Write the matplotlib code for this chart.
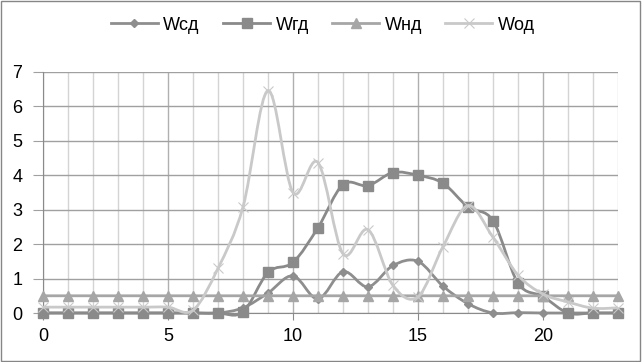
import matplotlib
matplotlib.use("Agg")
import matplotlib.pyplot as plt
from matplotlib.path import Path
from matplotlib.patches import PathPatch, Rectangle
from matplotlib.lines import Line2D
import numpy as np

hours = list(range(24))
w_sd = [0, 0, 0, 0, 0, 0, 0, 0, 0.15, 0.58, 1.08, 0.41, 1.2, 0.76, 1.38, 1.5,
        0.78, 0.27, 0, 0.01, 0, 0, 0, 0]
w_gd = [0, 0, 0, 0, 0, 0, 0, 0, 0.03, 1.18, 1.47, 2.48, 3.73, 3.7, 4.08, 4.0,
        3.77, 3.08, 2.68, 0.87, 0.48, 0, 0, 0]
w_nd = [0.5] * 24
w_od = [0.17, 0.17, 0.17, 0.17, 0.17, 0.17, 0.08, 1.3, 3.08, 6.46, 3.5, 4.37,
        1.72, 2.42, 0.8, 0.47, 1.93, 3.12, 2.2, 1.1, 0.55, 0.32, 0.14, 0.15]
labels = ["Wсд", "Wгд", "Wнд", "Wод"]


def smooth_path(x, y):
    # excel-like smoothed line: cubic bezier, catmull-rom control points
    x = np.asarray(x, float)
    y = np.asarray(y, float)
    verts = [(x[0], y[0])]
    codes = [Path.MOVETO]
    n = len(x)
    for i in range(n - 1):
        x0, y0 = (x[i - 1], y[i - 1]) if i > 0 else (x[i], y[i])
        x3, y3 = (x[i + 2], y[i + 2]) if i + 2 < n else (x[i + 1], y[i + 1])
        c1 = (x[i] + (x[i + 1] - x0) / 6, y[i] + (y[i + 1] - y0) / 6)
        c2 = (x[i + 1] - (x3 - x[i]) / 6, y[i + 1] - (y3 - y[i]) / 6)
        verts += [c1, c2, (x[i + 1], y[i + 1])]
        codes += [Path.CURVE4] * 3
    return Path(verts, codes)


fig = plt.figure(figsize=(6.42, 3.62), dpi=100)
plt.rcParams['font.family'] = ['Liberation Sans', 'DejaVu Sans']
ax = fig.add_axes([43 / 642, 1 - 313 / 362, 575 / 642, 241 / 362])

series = [w_sd, w_gd, w_nd, w_od]
colors = ["#8e8e8e", "#8a8a8a", "#a6a6a6", "#c9c9c9"]
markers = ["D", "s", "^", "x"]
msizes = [4.5, 7, 6.5, 7]
mews = [1.0, 1.0, 1.0, 0.8]
handles = []
for k, (vals, col, mk, ms, mw, lab) in enumerate(zip(series, colors, markers, msizes, mews, labels)):
    patch = PathPatch(smooth_path(hours, vals), facecolor="none", edgecolor=col,
                      lw=2.0, zorder=3 + k, clip_on=False)
    ax.add_patch(patch)
    ax.plot(hours, vals, linestyle="none", marker=mk, ms=ms, color=col,
            mec=col, mew=mw, zorder=3 + k, clip_on=False)
    handles.append(Line2D([], [], color=col, lw=2.0, marker=mk, ms=ms, mew=mw))

ax.set_xlim(0, 23)
ax.set_ylim(0, 7)
ax.set_xticks(range(0, 21, 5))
ax.set_xticks(range(24), minor=True)
ax.set_yticks(range(8))
ax.grid(True, which="minor", axis="x", color="#d4d4d4", lw=1)
ax.grid(True, which="major", axis="x", color="#b0b0b0", lw=1)
ax.grid(True, which="major", axis="y", color="#a0a0a0", lw=1)
ax.set_axisbelow(True)
for side in ["top", "right"]:
    ax.spines[side].set_visible(False)
ax.spines["left"].set_color("#8a8a8a")
ax.spines["bottom"].set_color("#8a8a8a")
ax.tick_params(axis="y", length=7, color="#a0a0a0", labelsize=13, pad=8)
ax.tick_params(axis="x", which="major", length=5, color="#8a8a8a", labelsize=13, pad=6)
ax.tick_params(axis="x", which="minor", length=0)

fig.legend(handles=handles, labels=labels, loc="center", bbox_to_anchor=(0.503, 1 - 25 / 362),
           ncol=4, frameon=False, fontsize=13, handlelength=2.6, handletextpad=0.3,
           columnspacing=1.3)

fig.patches.append(Rectangle((0.002, 0.003), 0.995, 0.993, transform=fig.transFigure,
                             fill=False, edgecolor="#868686", lw=1))

fig.savefig("out.png", dpi=100)
